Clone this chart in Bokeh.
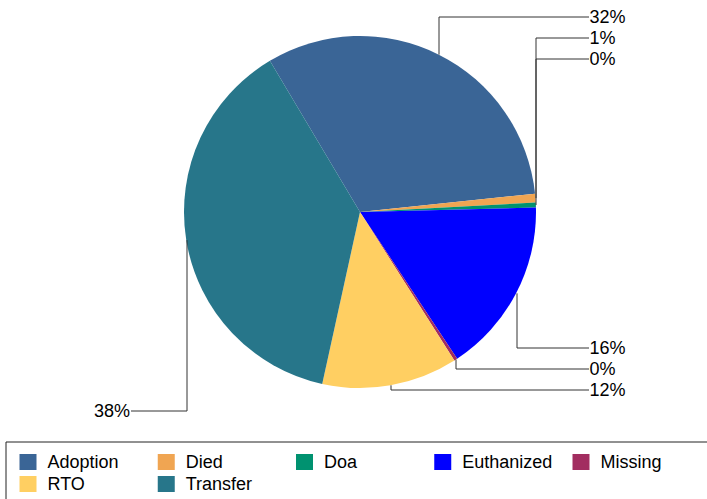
import math
from bokeh.plotting import figure
from bokeh.models import Range1d, ColumnDataSource
from bokeh.embed import file_html
from bokeh.resources import INLINE
from bokeh.core.properties import value

# ---- data ----
categories = ["Adoption", "Died", "Doa", "Euthanized", "Missing", "RTO", "Transfer"]
shares = [31.9, 0.8, 0.45, 16.1, 0.3, 12.45, 38.0]
colors = ["#3a6596", "#f0a552", "#009270", "#0000ff", "#a22d60", "#ffcf62", "#27768a"]

# ---- layout (screen pixels) ----
W, H = 707, 499
OX, OY = 0, 0


def X(sx):
    return sx - OX


def Y(sy):
    return (OY + H) - sy


CX, CY, R = 359.5, 211.5, 176
START_DEG = 120.8
FONT = value("Liberation Sans")
FSIZE = "18px"
LINE_COLOR = "#333333"

p = figure(width=W, height=H, x_range=Range1d(0, W), y_range=Range1d(0, H),
           output_backend="svg", toolbar_location=None, min_border=0)
p.axis.visible = False
p.grid.visible = False
p.outline_line_color = None
p.background_fill_color = "white"

total = sum(shares)
starts, ends, mids = [], [], []
cum = 0.0
for s in shares:
    a0 = START_DEG - cum / total * 360.0
    cum += s
    a1 = START_DEG - cum / total * 360.0
    starts.append(math.radians(a1))
    ends.append(math.radians(a0))
    mids.append(math.radians((a0 + a1) / 2))

src = ColumnDataSource(dict(cat=categories, start=starts, end=ends, color=colors))
p.wedge(x=X(CX), y=Y(CY), radius=R, start_angle="start", end_angle="end",
        fill_color="color", line_color=None, source=src)

# ---- leader lines and percent labels ----
upper = [i for i, m in enumerate(mids) if math.sin(m) > 0]
lower = [i for i, m in enumerate(mids) if math.sin(m) <= 0]
label_y = {}
for k, i in enumerate(upper):
    label_y[i] = 16.5 + 21 * k
for k, i in enumerate(lower):
    label_y[i] = 410.5 - 21 * (len(lower) - 1 - k)

xs, ys = [], []
rtx, rty, rtt = [], [], []
ltx, lty, ltt = [], [], []
for i, m in enumerate(mids):
    ex = CX + R * math.cos(m)
    ey = CY - R * math.sin(m)
    ex = round(ex) + 0.5
    ly = label_y[i]
    txt = f"{round(shares[i] / total * 100):.0f}%"
    if math.cos(m) > 0:
        endx = 588.5
        rtx.append(X(endx + 0.5)); rty.append(Y(ly)); rtt.append(txt)
    else:
        endx = 130.5
        ltx.append(X(endx - 1)); lty.append(Y(ly)); ltt.append(txt)
    xs.append([X(ex), X(ex), X(endx)])
    ys.append([Y(ey), Y(ly), Y(ly)])

p.multi_line(xs=xs, ys=ys, line_color=LINE_COLOR, line_width=1)
p.text(x=rtx, y=rty, text=rtt, text_font=FONT, text_font_size=FSIZE,
       text_align="left", text_baseline="middle", text_color="#000000")
p.text(x=ltx, y=lty, text=ltt, text_font=FONT, text_font_size=FSIZE,
       text_align="right", text_baseline="middle", text_color="#000000")

# ---- legend ----
p.quad(left=X(5.5), right=X(720), top=Y(441.5), bottom=Y(510),
       fill_color=None, line_color="#222222", line_width=1)
NCOL = 5
COLW = 138.25
sw_x, sw_y, lt_x, lt_y = [], [], [], []
for i, c in enumerate(categories):
    col, row = i % NCOL, i // NCOL
    sw_x.append(X(19 + col * COLW + 8.5))
    sw_y.append(Y(461.5 + row * 22))
    lt_x.append(X(47 + col * COLW))
    lt_y.append(Y(461.5 + row * 22))
p.rect(x=sw_x, y=sw_y, width=17, height=16, fill_color=colors, line_color=None)
p.text(x=lt_x, y=lt_y, text=categories, text_font=FONT, text_font_size=FSIZE,
       text_align="left", text_baseline="middle", text_color="#000000")

open("out.html", "w").write(file_html(p, INLINE))
